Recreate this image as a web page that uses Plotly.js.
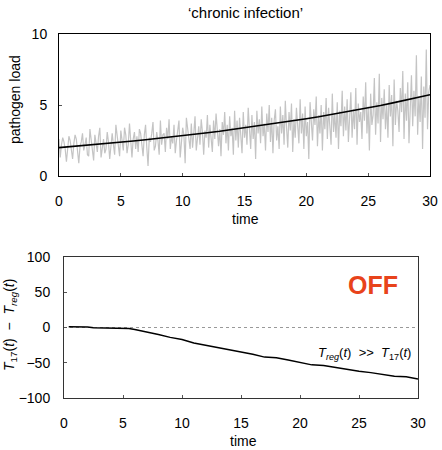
<!DOCTYPE html>
<html>
<head>
<meta charset="utf-8">
<script src="https://cdn.plot.ly/plotly-3.0.1.min.js"></script>
<style>html,body{margin:0;padding:0;background:#fff}#chart{width:442px;height:450px}</style>
</head>
<body>
<div id="chart"></div>
<script>
// ---- top panel: pathogen load (noisy realisation, 0.1 time step) ----
const loadNoisy = [
2.6,1.3,2.2,2.7,2.4,1.9,1.0,2.0,2.8,2.5,
1.6,1.2,2.3,2.9,2.6,1.7,0.9,2.1,2.4,3.0,
1.8,2.2,2.7,1.5,1.4,3.3,2.5,2.0,1.1,2.9,
2.2,1.7,2.8,3.4,1.3,2.0,2.6,1.6,1.9,3.1,
2.4,1.2,2.1,3.0,2.2,1.5,3.6,2.7,2.1,1.4,
3.2,2.5,1.8,3.4,2.9,1.6,2.2,3.7,2.6,1.3,
2.6,3.1,1.9,2.8,1.7,3.3,3.0,2.3,1.4,2.9,
3.6,2.0,0.7,2.7,2.4,3.0,3.8,1.8,2.1,3.1,
2.5,1.5,3.9,2.2,2.9,3.0,1.7,3.4,2.6,4.0,
1.9,2.8,2.3,3.6,1.6,2.5,3.2,3.9,1.3,2.2,
3.4,2.9,0.9,4.1,3.3,2.5,1.9,3.7,2.0,3.0,
4.2,1.8,2.7,3.5,2.2,4.0,3.1,1.5,3.2,2.7,
4.3,2.0,3.6,2.4,1.7,3.9,2.6,4.4,3.0,2.1,
3.3,1.4,3.8,2.9,4.5,2.3,3.6,1.8,4.2,2.8,
3.4,1.5,4.6,2.5,3.9,2.0,4.1,3.0,1.6,4.5,
2.7,3.6,2.2,4.8,3.1,1.9,4.3,2.6,3.8,1.2,
4.6,3.0,4.0,2.3,4.9,2.8,3.7,1.8,4.4,3.1,
5.0,2.4,4.1,1.6,3.9,4.7,2.5,3.5,1.9,4.9,
3.0,4.3,2.2,5.3,3.4,2.0,4.5,3.2,5.1,1.7,
4.0,2.7,4.8,3.5,2.3,5.4,3.0,4.4,1.9,4.9,
2.8,3.8,1.2,5.2,3.3,2.5,4.7,3.6,5.6,2.1,
4.3,3.0,5.0,1.8,4.5,3.3,5.5,2.6,4.8,3.8,
2.2,5.8,3.1,4.4,2.7,5.2,1.9,4.6,3.5,6.0,
2.8,4.9,3.2,5.4,2.4,4.1,5.9,2.7,4.7,3.3,
6.2,2.2,5.1,3.8,4.5,2.6,5.6,3.9,6.6,3.0,
4.9,1.8,5.8,3.6,4.3,6.9,2.9,5.2,3.7,7.2,
2.4,5.5,4.0,6.1,3.3,5.0,2.7,6.4,4.2,5.7,
2.1,6.8,3.6,5.3,4.6,3.1,6.2,4.5,7.4,2.6,
5.8,3.9,6.6,2.3,5.4,7.1,3.5,6.0,4.2,8.5,
2.9,5.6,3.8,7.0,1.9,6.3,4.1,8.9,3.3,5.9,
6.4];
const noisyTime = loadNoisy.map((_, i) => i / 10);

// mean pathogen load read at integer times
const meanTime = [0,1,2,3,4,5,6,7,8,9,10,11,12,13,14,15,16,17,18,19,20,21,22,23,24,25,26,27,28,29,30];
const meanLoad = [2.0,2.07,2.14,2.22,2.3,2.38,2.46,2.55,2.64,2.74,2.84,2.94,3.05,3.15,3.27,3.38,3.5,3.63,3.76,3.89,4.03,4.17,4.32,4.48,4.64,4.8,4.97,5.15,5.33,5.52,5.72];

// ---- bottom panel: T17 - Treg ----
const diffTime = [0.4,1,2,2.5,3,4,5,5.5,6,7,8,9,10,11,12,13,14,15,16,17,18,19,20,21,22,23,24,25,26,27,28,29,30];
const diffVal  = [1,1,0.8,-0.5,-0.8,-0.8,-1,-1.5,-3,-6,-10,-14,-17,-22,-25,-28,-32,-35,-38,-42,-43,-46,-50,-53,-54,-57,-59,-62,-64,-67,-69,-70,-73];

const topXTicks = [0,5,10,15,20,25,30];
const topYTicks = [0,5,10];
const botYTicks = [-100,-50,0,50,100];

const FONT = 'Liberation Sans, Arial, sans-serif';

const traces = [
  {x: noisyTime, y: loadNoisy, type: 'scatter', mode: 'lines',
   line: {color: '#c4c4c4', width: 1.2}, xaxis: 'x', yaxis: 'y', hoverinfo: 'skip'},
  {x: meanTime, y: meanLoad, type: 'scatter', mode: 'lines',
   line: {color: '#000', width: 1.6}, xaxis: 'x', yaxis: 'y'},
  {x: diffTime, y: diffVal, type: 'scatter', mode: 'lines',
   line: {color: '#000', width: 1.5}, xaxis: 'x2', yaxis: 'y2'}
];

const axBase = {
  showline: true, mirror: true, linecolor: '#000', linewidth: 1,
  ticks: 'inside', ticklen: 3, tickcolor: '#555', showgrid: false, zeroline: false,
  tickfont: {family: FONT, size: 14, color: '#000'}
};

const layout = {
  width: 442, height: 450,
  margin: {l: 0, r: 0, t: 0, b: 0},
  paper_bgcolor: '#fff', plot_bgcolor: '#fff',
  showlegend: false,
  font: {family: FONT, color: '#000'},
  xaxis: Object.assign({}, axBase, {domain: [59/442, 430/442], range: [0, 30], tickvals: topXTicks, anchor: 'y', ticklabelstandoff: 12}),
  yaxis: Object.assign({}, axBase, {domain: [1 - 176/450, 1 - 34/450], range: [0, 10], tickvals: topYTicks, anchor: 'x', ticklabelstandoff: 8}),
  xaxis2: Object.assign({}, axBase, {domain: [64/442, 418/442], range: [0, 30], tickvals: topXTicks, anchor: 'y2', linecolor: '#333', ticklabelstandoff: 12}),
  yaxis2: Object.assign({}, axBase, {domain: [1 - 398/450, 1 - 257/450], range: [-100, 100], tickvals: botYTicks, anchor: 'x2', linecolor: '#333', ticklabelstandoff: 10}),
  shapes: [
    {type: 'line', xref: 'x2 domain', yref: 'y2', x0: 0, x1: 1, y0: 0, y1: 0,
     line: {color: '#999', width: 1, dash: 'dot'}, layer: 'below'}
  ],
  annotations: [
    {text: '‘chronic infection’', xref: 'paper', yref: 'paper', x: 245/442, y: 1 - 13/450,
     showarrow: false, font: {size: 15, family: FONT}, xanchor: 'center', yanchor: 'middle'},
    {text: 'pathogen load', xref: 'paper', yref: 'paper', x: 15/442, y: 1 - 100/450, textangle: -90,
     showarrow: false, font: {size: 14, family: FONT}, xanchor: 'center', yanchor: 'middle'},
    {text: 'time', xref: 'paper', yref: 'paper', x: 245/442, y: 1 - 219/450,
     showarrow: false, font: {size: 14, family: FONT}, xanchor: 'center', yanchor: 'middle'},
    {text: 'time', xref: 'paper', yref: 'paper', x: 243/442, y: 1 - 441/450,
     showarrow: false, font: {size: 14, family: FONT}, xanchor: 'center', yanchor: 'middle'},
    {text: '<i>T</i><sub>17</sub>(<i>t</i>)  −  <i>T</i><sub><i>reg</i></sub>(<i>t</i>)', xref: 'paper', yref: 'paper',
     x: 10/442, y: 1 - 325/450, textangle: -90,
     showarrow: false, font: {size: 14, family: FONT}, xanchor: 'center', yanchor: 'middle'},
    {text: '<b>OFF</b>', xref: 'paper', yref: 'paper', x: 373/442, y: 1 - 285/450,
     showarrow: false, font: {size: 25, family: FONT, color: '#e8431b'}, xanchor: 'center', yanchor: 'middle'},
    {text: '<i>T</i><sub><i>reg</i></sub>(<i>t</i>)  >>  <i>T</i><sub>17</sub>(<i>t</i>)', xref: 'paper', yref: 'paper',
     x: 364/442, y: 1 - 353/450,
     showarrow: false, font: {size: 13, family: FONT}, xanchor: 'center', yanchor: 'middle'}
  ]
};

Plotly.newPlot('chart', traces, layout, {staticPlot: true, displayModeBar: false});
</script>
</body>
</html>
